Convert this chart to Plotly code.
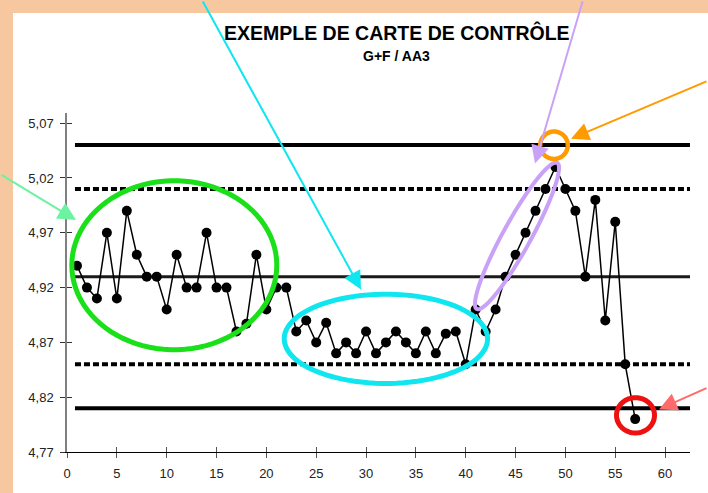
import numpy as np
import plotly.graph_objects as go

# ---------------- data ----------------
sample_no = list(range(1, 58))
values = [4.94, 4.92, 4.91, 4.97, 4.91, 4.99, 4.95, 4.93, 4.93, 4.90,
          4.95, 4.92, 4.92, 4.97, 4.92, 4.92, 4.88, 4.887, 4.95, 4.90,
          4.92, 4.92, 4.88, 4.89, 4.87, 4.888, 4.86, 4.87, 4.86, 4.88,
          4.86, 4.87, 4.88, 4.87, 4.86, 4.88, 4.86, 4.878, 4.88, 4.85,
          4.90, 4.88, 4.90, 4.93, 4.95, 4.97, 4.99, 5.01, 5.03, 5.01,
          4.99, 4.93, 5.00, 4.89, 4.98, 4.85, 4.80]

limit_names = ["Limite de contrôle sup.", "Limite de surveillance sup.", "Moyenne",
               "Limite de surveillance inf.", "Limite de contrôle inf."]
limit_values = [5.05, 5.01, 4.93, 4.85, 4.81]
limit_span = [0.8, 62.5]

x_ticks = [0, 5, 10, 15, 20, 25, 30, 35, 40, 45, 50, 55, 60]
y_ticks = [4.77, 4.82, 4.87, 4.92, 4.97, 5.02, 5.07]
y_ticktext = ["4,77", "4,82", "4,87", "4,92", "4,97", "5,02", "5,07"]

title_text = "EXEMPLE DE CARTE DE CONTRÔLE"
subtitle_text = "G+F / AA3"

# ---------------- layout geometry ----------------
W, H = 708, 493
ML, MR, MT, MB = 67, 18, 113, 38
PW, PH = W - ML - MR, H - MT - MB
X_RANGE = [0, 62.5]
Y_RANGE = [4.77, 5.0793]


def px2paper(px, py):
    return (px - ML) / PW, (H - MB - py) / PH


def ellipse_path(cx, cy, a, b, theta_deg=0.0, n=90):
    th = np.radians(theta_deg)
    ux, uy = np.cos(th), -np.sin(th)
    vx, vy = np.sin(th), np.cos(th)
    pts = []
    for t in np.linspace(0, 2 * np.pi, n, endpoint=False):
        px = cx + a * np.cos(t) * ux + b * np.sin(t) * vx
        py = cy + a * np.cos(t) * uy + b * np.sin(t) * vy
        X, Y = px2paper(px, py)
        pts.append(f"{X:.5f},{Y:.5f}")
    return "M" + " L".join(pts) + " Z"


fig = go.Figure()

# control limits
styles = [
    dict(color="black", width=4, dash="solid"),
    dict(color="black", width=4, dash="6px,3px"),
    dict(color="#1a1a1a", width=3, dash="solid"),
    dict(color="black", width=4, dash="6px,3px"),
    dict(color="black", width=4, dash="solid"),
]
for name, val, st in zip(limit_names, limit_values, styles):
    fig.add_trace(go.Scatter(x=limit_span, y=[val, val], mode="lines", name=name,
                             line=st, showlegend=False, hoverinfo="skip"))

# measurements
fig.add_trace(go.Scatter(x=sample_no, y=values, mode="lines+markers",
                         line=dict(color="black", width=1.5),
                         marker=dict(color="black", size=10),
                         showlegend=False, cliponaxis=False))

# dummy trace for crossing ticks
fig.add_trace(go.Scatter(x=[None], y=[None], xaxis="x2", yaxis="y2",
                         showlegend=False, hoverinfo="skip"))

shapes = []
# background white card
x0, y0 = px2paper(13, 12)
x1, y1 = px2paper(W + 5, H + 5)
shapes.append(dict(type="rect", xref="paper", yref="paper", x0=x0, y0=y1, x1=x1, y1=y0,
                   fillcolor="white", line=dict(width=0), layer="below"))

# decorations
shapes.append(dict(type="path", xref="paper", yref="paper",
                   path=ellipse_path(174.3, 266.6, 102.5, 85.2),
                   line=dict(color="#19e019", width=5)))
shapes.append(dict(type="path", xref="paper", yref="paper",
                   path=ellipse_path(385.9, 340.8, 101.7, 45.0),
                   line=dict(color="#10e6f0", width=5)))
shapes.append(dict(type="path", xref="paper", yref="paper",
                   path=ellipse_path(517, 237, 84, 14, 61.4),
                   line=dict(color="#c9a2f7", width=4)))
shapes.append(dict(type="path", xref="paper", yref="paper",
                   path=ellipse_path(554, 145.5, 13.8, 13.8),
                   line=dict(color="#ff9a00", width=4.5)))
shapes.append(dict(type="path", xref="paper", yref="paper",
                   path=ellipse_path(635.5, 418, 19, 17.8),
                   line=dict(color="#ee1111", width=5)))

annotations = []
tx, ty = px2paper(397, 32)
annotations.append(dict(text=title_text, xref="paper", yref="paper", x=tx, y=ty,
                        showarrow=False, xanchor="center", yanchor="middle",
                        font=dict(family="Liberation Sans, Arial, sans-serif", size=19.5,
                                  color="black", weight="bold")))
sx, sy = px2paper(397, 55)
annotations.append(dict(text=subtitle_text, xref="paper", yref="paper", x=sx, y=sy,
                        showarrow=False, xanchor="center", yanchor="middle",
                        font=dict(family="Liberation Sans, Arial, sans-serif", size=14,
                                  color="black", weight="bold")))

arrows = [
    # (tip px, tail px, color)
    ((76, 221), (-6, 175), "#6cf2a0"),
    ((361, 291), (202, -2), "#10e6f0"),
    ((535, 164), (583, -2), "#c9a2f7"),
    ((571, 139), (716, 81), "#ff9a00"),
    ((659, 412), (716, 390), "#ff6b6b"),
]
for (tipx, tipy), (tlx, tly), col in arrows:
    ax_, ay_ = px2paper(tipx, tipy)
    annotations.append(dict(text="", xref="paper", yref="paper", x=ax_, y=ay_,
                            ax=tlx - tipx, ay=tly - tipy, axref="pixel", ayref="pixel",
                            showarrow=True, arrowhead=2, arrowsize=1.8, arrowwidth=2,
                            arrowcolor=col, standoff=0, startstandoff=0))

tickfont = dict(family="Liberation Sans, Arial, sans-serif", size=13, color="#222")

fig.update_layout(
    width=W, height=H,
    margin=dict(l=ML, r=MR, t=MT, b=MB, pad=0),
    paper_bgcolor="#f7c7a0",
    plot_bgcolor="white",
    shapes=shapes,
    annotations=annotations,
    xaxis=dict(range=X_RANGE, tickvals=x_ticks, ticks="outside", ticklen=5,
               tickcolor="#555", tickwidth=1, showline=True, linecolor="black",
               linewidth=1, showgrid=False, zeroline=False, tickfont=tickfont,
               ticklabelstandoff=4),
    yaxis=dict(range=Y_RANGE, tickvals=y_ticks, ticktext=y_ticktext, ticks="outside",
               ticklen=5, tickcolor="#333", tickwidth=1, showline=True,
               linecolor="#808080", linewidth=1.5, showgrid=False, zeroline=False,
               tickfont=tickfont, ticklabelstandoff=4),
    xaxis2=dict(range=X_RANGE, tickvals=x_ticks, ticks="inside", ticklen=5,
                tickcolor="#555", tickwidth=1, showline=False, showgrid=False,
                zeroline=False, showticklabels=False, overlaying="x", anchor="y",
                side="bottom"),
    yaxis2=dict(range=Y_RANGE, tickvals=y_ticks, ticks="inside", ticklen=5,
                tickcolor="#333", tickwidth=1, showline=False, showgrid=False,
                zeroline=False, showticklabels=False, overlaying="y", anchor="x",
                side="left"),
)

fig.write_html("out.html",
               config={"displayModeBar": False},
               post_script="document.body.style.margin='0';document.body.style.padding='0';"
                           "document.documentElement.style.overflow='hidden';")
